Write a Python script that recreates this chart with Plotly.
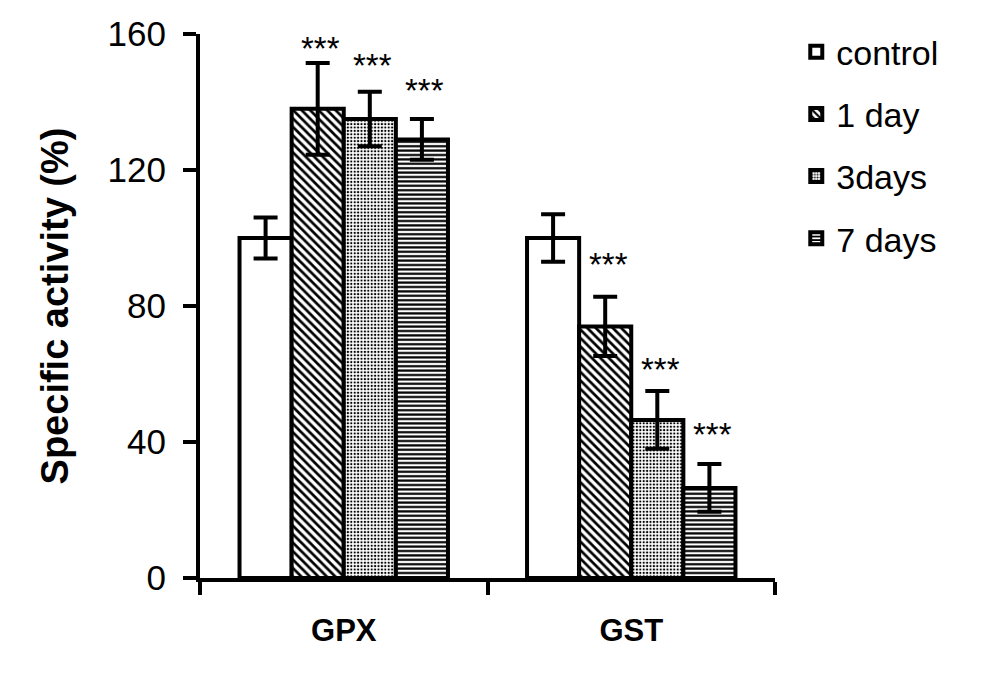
import plotly.graph_objects as go

enzymes = ["GPX", "GST"]
groups = ["control", "1 day", "3days", "7days"]
legend_names = ["control", "1 day", "3days", "7 days"]

control = [100, 100]
day1 = [138, 74]
day3 = [135, 46.5]
day7 = [129, 26.5]

control_err = [6, 7]
day1_err = [13.5, 8.7]
day3_err = [8, 8.5]
day7_err = [6, 7]

# y position of the significance stars for each treated bar
day1_star = [157, 93.5]
day3_star = [152, 62.5]
day7_star = [144.5, 43.5]

values = [control, day1, day3, day7]
errors = [control_err, day1_err, day3_err, day7_err]
stars = [None, day1_star, day3_star, day7_star]
patterns = ["", "\\", ".", "-"]
pat_size = [8, 6, 3.4, 4.4]
pat_sol = [0.3, 0.45, 0.35, 0.5]

FONT = "Liberation Sans, Arial, sans-serif"

fig = go.Figure()
for i in range(4):
    fig.add_trace(go.Bar(
        x=enzymes, y=values[i], name=legend_names[i],
        legendgroup=groups[i],
        marker=dict(color="white",
                    line=dict(color="black", width=4),
                    pattern=dict(shape=patterns[i], fgcolor="black", bgcolor="white",
                                 size=pat_size[i], solidity=pat_sol[i], fillmode="replace")),
        error_y=dict(type="data", array=errors[i], color="black", thickness=4, width=12),
    ))

# bar centres relative to the category centre (in px)
plot_w = 575
cat_w = plot_w / len(enzymes)
bargap = 0.275
bar_w = cat_w * (1 - bargap) / 4
for i in range(1, 4):
    for j, enz in enumerate(enzymes):
        fig.add_annotation(x=enz, y=stars[i][j], text="***", showarrow=False,
                           xshift=(i - 1.5) * bar_w + 3, yshift=-4,
                           font=dict(family=FONT, size=33, color="black"))

fig.update_layout(
    width=1003, height=697,
    margin=dict(l=192, r=236, t=26, b=127, autoexpand=False),
    paper_bgcolor="white", plot_bgcolor="white",
    barmode="group", bargap=bargap, bargroupgap=0,
    font=dict(family=FONT, color="black"),
    legend=dict(x=1.037, y=1.02, xanchor="left", yanchor="top",
                font=dict(size=34), tracegroupgap=15,
                itemwidth=30),
    showlegend=True,
)
fig.update_xaxes(
    showline=True, linecolor="black", linewidth=4, automargin=False,
    ticks="outside", tickson="boundaries", ticklen=13, tickwidth=4, tickcolor="black",
    tickfont=dict(size=31, family="Liberation Sans, Arial", weight="bold"),
    ticklabelstandoff=22, showgrid=False, zeroline=False,
)
fig.update_yaxes(
    range=[0, 160], tickvals=[0, 40, 80, 120, 160], automargin=False,
    showline=True, linecolor="black", linewidth=4,
    ticks="outside", ticklen=13, tickwidth=4, tickcolor="black",
    tickfont=dict(size=35), ticklabelstandoff=10,
    showgrid=False, zeroline=False,
    title=dict(text="<b>Specific activity (%)</b>", font=dict(size=38), standoff=28),
)

fig.write_html("out.html")
